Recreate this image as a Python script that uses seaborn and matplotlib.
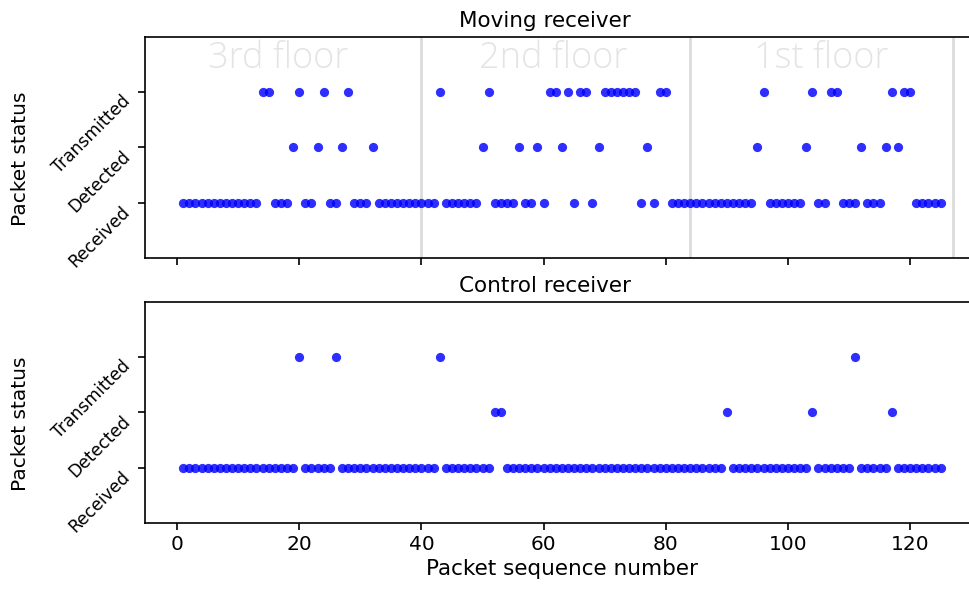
import numpy as np
import pandas as pd
import matplotlib
matplotlib.use("Agg")
import matplotlib.pyplot as plt
import seaborn as sns

# Packet sequence numbers sent during the walk
packets = np.arange(1, 126)

# Packets that were only transmitted / only detected (all others were received)
moving_transmitted = [14, 15, 20, 24, 28, 43, 51, 61, 62, 64, 66, 67, 70, 71, 72,
                      73, 74, 75, 79, 80, 96, 104, 107, 108, 117, 119, 120]
moving_detected = [19, 23, 27, 32, 50, 56, 59, 63, 69, 77, 95, 103, 112, 116, 118]
control_transmitted = [20, 26, 43, 111]
control_detected = [52, 53, 90, 104, 117]

status_labels = ["Received", "Detected", "Transmitted"]
floor_names = ["3rd floor", "2nd floor", "1st floor"]
floor_centers = [16.5, 61.5, 105.4]
floor_boundaries = [40, 84, 127]

sns.set_style("ticks")
plt.rcParams.update({
    "font.family": ["DejaVu Sans"],
    "axes.edgecolor": "black",
    "axes.linewidth": 1.2,
    "xtick.color": "black",
    "ytick.color": "black",
    "text.color": "black",
    "axes.labelcolor": "black",
})


def status_frame(transmitted, detected):
    status = np.zeros(len(packets), dtype=int)
    status[np.isin(packets, detected)] = 1
    status[np.isin(packets, transmitted)] = 2
    return pd.DataFrame({"packet": packets, "status": status})


moving = status_frame(moving_transmitted, moving_detected)
control = status_frame(control_transmitted, control_detected)

fig = plt.figure(figsize=(9.7, 5.92), dpi=100)
ax_top = fig.add_axes([0.1498, 0.5642, 0.859, 0.3733])
ax_bot = fig.add_axes([0.1498, 0.1166, 0.859, 0.3733], sharex=ax_top)

for ax, df, title in [(ax_top, moving, "Moving receiver"),
                      (ax_bot, control, "Control receiver")]:
    sns.scatterplot(data=df, x="packet", y="status", ax=ax, color="#0000ff",
                    alpha=0.82, s=44, linewidth=0, legend=False, zorder=3)
    ax.set_xlim(-5.2, 131.2)
    ax.set_ylim(-1, 3)
    ax.set_yticks([0, 1, 2])
    ax.set_yticklabels(status_labels, fontsize=12.3)
    for lab in ax.get_yticklabels():
        lab.set_rotation(45)
        lab.set_ha("right")
        lab.set_va("top")
    ax.set_xticks([0, 20, 40, 60, 80, 100, 120])
    ax.tick_params(axis="both", direction="out", length=5, width=1.2)
    ax.tick_params(axis="x", labelsize=14.5)
    ax.set_title(title, fontsize=15.5, x=0.48, pad=7)
    ax.set_ylabel("Packet status", fontsize=14.5)
    ax.yaxis.set_label_coords(-0.138, 0.45)
    ax.set_xlabel("")

# Floor boundaries and names on the moving receiver panel
for xb in floor_boundaries:
    ax_top.axvline(xb, color="#dcdcdc", linewidth=2, zorder=1)
for name, xc in zip(floor_names, floor_centers):
    ax_top.text(xc, 2.61, name, ha="center", va="center", fontsize=26,
                color="#e4e4e4", family=["Open Sans", "DejaVu Sans"],
                fontweight="light", zorder=2)

ax_top.tick_params(axis="x", labelbottom=False)
ax_bot.set_xlabel("Packet sequence number", fontsize=15.5)

fig.savefig("out.png", dpi=100)
